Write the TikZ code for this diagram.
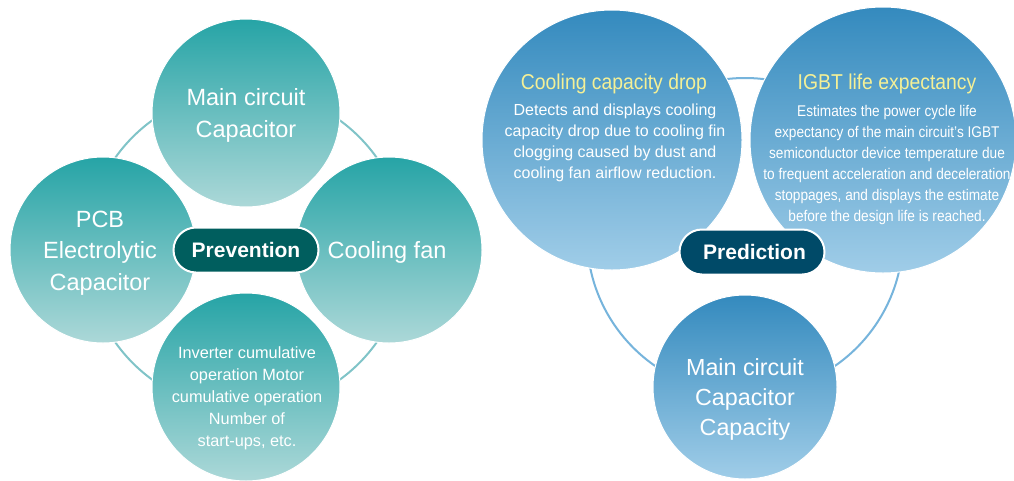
\documentclass[tikz,border=0pt]{standalone}
\usepackage{fontspec}
\setmainfont{Liberation Sans}
\newfontfamily\condfont[FakeStretch=0.9]{Liberation Sans}
\newfontfamily\narrowfont[FakeStretch=0.88]{Liberation Sans}
\usetikzlibrary{shapes.misc}
\definecolor{tealTop}{RGB}{38,164,166}
\definecolor{tealMid}{RGB}{85,180,182}
\definecolor{tealBot}{RGB}{172,216,216}
\definecolor{blueTop}{RGB}{52,138,190}
\definecolor{blueMid}{RGB}{88,160,205}
\definecolor{blueBot}{RGB}{160,205,232}
\definecolor{ringTeal}{RGB}{128,196,200}
\definecolor{ringBlue}{RGB}{118,180,220}
\definecolor{pillTeal}{RGB}{0,94,94}
\definecolor{pillBlue}{RGB}{0,74,104}
\definecolor{titleYellow}{RGB}{245,240,150}
\definecolor{txtWhite}{RGB}{255,255,255}
\tikzset{
  ball/.style={circle, inner sep=0pt, outer sep=0pt, draw=white, line width=1pt},
  tealball/.style={ball, top color=tealTop, middle color=tealMid, bottom color=tealBot},
  blueball/.style={ball, top color=blueTop, middle color=blueMid, bottom color=blueBot},
  ringline/.style={line width=2pt},
  pill/.style={rounded rectangle, minimum width=145pt, minimum height=45pt, inner sep=0pt,
    draw=white, line width=2pt, text=white, font=\fontsize{21}{24}\bfseries\selectfont},
  bigtxt/.style={anchor=base, align=center, text=txtWhite, inner sep=0pt},
  smalltxt/.style={anchor=base, align=center, text=txtWhite, inner sep=0pt},
  titletxt/.style={anchor=base, align=center, text=titleYellow, inner sep=0pt,
    font=\condfont\fontsize{21.5}{24}\selectfont},
}
\begin{document}
\begin{tikzpicture}[x=1pt,y=-1pt]
\useasboundingbox[fill=white] (0,0) rectangle (1014,480);
% ---------- left group ----------
\coordinate (ringL) at (246,250);
\draw[ringline, ringTeal] (ringL) circle[radius=160];
\node[tealball, minimum size=188pt] (lt) at (246,113) {};
\node[tealball, minimum size=186pt] (ll) at (103,250) {};
\node[tealball, minimum size=186pt] (lr) at (389,250) {};
\node[tealball, minimum size=188pt] (lb) at (246,387) {};
\node[pill, fill=pillTeal] (prev) at (246,250) {Prevention};
% anchor=base is the baseline of the LAST line of a multi-line node
\node[bigtxt, font=\fontsize{23.5}{32}\selectfont] (t1) at (246,137) {Main circuit\\Capacitor};
\node[bigtxt, font=\fontsize{23.5}{31.5}\selectfont] (t2) at (100,290) {PCB\\Electrolytic\\Capacitor};
\node[bigtxt, font=\fontsize{23.5}{31.5}\selectfont] (t3) at (387,258) {Cooling fan};
\node[smalltxt, font=\fontsize{16.3}{22}\selectfont] (t4) at (247,446)
  {Inverter cumulative\\operation Motor\\cumulative operation\\Number of\\start-ups, etc.};
% ---------- right group ----------
\coordinate (ringR) at (745,236);
\draw[ringline, ringBlue] (ringR) circle[radius=158];
\node[blueball, minimum size=260pt] (rl) at (612,140) {};
\node[blueball, minimum size=266pt] (rr) at (883,140) {};
\node[blueball, minimum size=184pt] (rb) at (745,387) {};
\node[pill, fill=pillBlue] (pred) at (752,252) {\hspace{5pt}Prediction};
\node[titletxt] (t5) at (614,89) {Cooling capacity drop};
\node[smalltxt, font=\fontsize{16}{21}\selectfont] (t6) at (615,178)
  {Detects and displays cooling\\capacity drop due to cooling fin\\clogging caused by dust and\\cooling fan airflow reduction.};
\node[titletxt] (t7) at (887,89) {IGBT life expectancy};
\node[smalltxt, font=\narrowfont\fontsize{15.5}{21}\selectfont] (t8) at (887,221)
  {Estimates the power cycle life\\expectancy of the main circuit’s IGBT\\semiconductor device temperature due\\to frequent acceleration and deceleration\\stoppages, and displays the estimate\\before the design life is reached.};
\node[bigtxt, font=\fontsize{23.3}{30}\selectfont] (t9) at (745,435) {Main circuit\\Capacitor\\Capacity};
\end{tikzpicture}
\end{document}
